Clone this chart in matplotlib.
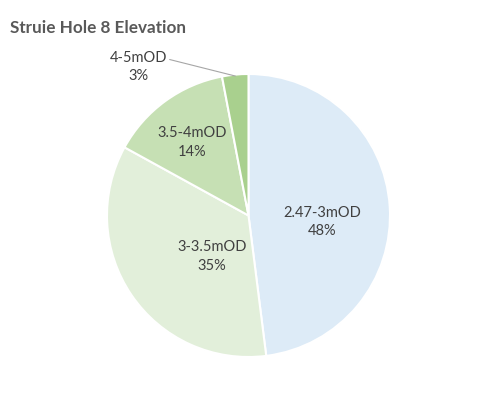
import numpy as np
import matplotlib.pyplot as plt

# slice data (clockwise from 12 o'clock)
labels = ["2.47-3mOD", "3-3.5mOD", "3.5-4mOD", "4-5mOD"]
shares = [48, 35, 14, 3]
colors = ["#DDEBF7", "#E2EFDA", "#C6E0B4", "#A9D08E"]

plt.rcParams['font.family'] = ['Lato', 'DejaVu Sans']

fig = plt.figure(figsize=(5.0, 3.97), dpi=100)
ax = fig.add_axes([107 / 500, 40 / 397, 283 / 500, 283 / 397])

wedges, _ = ax.pie(shares, colors=colors, startangle=90, counterclock=False,
                   radius=1, wedgeprops=dict(edgecolor="white", linewidth=1.5))
ax.set_xlim(-1, 1)
ax.set_ylim(-1, 1)
ax.set_aspect("equal")
ax.axis("off")

# label radius and nudge for each slice (inside except the small one)
label_r = [0.5, 0.39, 0.675, None]
nudge = [(0.02, -0.076), (0.064, -0.07), (0.0, -0.03), (0, 0)]
for w, lab, val, r, (nx, ny) in zip(wedges, labels, shares, label_r, nudge):
    mid = np.deg2rad((w.theta1 + w.theta2) / 2)
    txt = f"{lab}\n{val}%"
    if r is not None:
        ax.text(r * np.cos(mid) + nx, r * np.sin(mid) + ny, txt, ha="center", va="center",
                fontsize=10.5, color="#404040", linespacing=1.4)
    else:
        ex, ey = np.cos(mid), np.sin(mid)
        ax.annotate(txt, xy=(ex * 0.99, ey * 0.99), xytext=(-0.78, 1.05),
                    ha="center", va="center", fontsize=10.5, color="#404040",
                    linespacing=1.4, annotation_clip=False,
                    arrowprops=dict(arrowstyle="-", color="#A6A6A6", lw=0.8,
                                    shrinkA=0, shrinkB=0,
                                    relpos=(1.0, 0.75)))

fig.text(10 / 500, 1 - 28 / 397, "Struie Hole 8 Elevation", fontsize=12.3, fontweight="bold",
         color="#595959", ha="left", va="center")

fig.savefig("out.png", dpi=100, facecolor="white")
